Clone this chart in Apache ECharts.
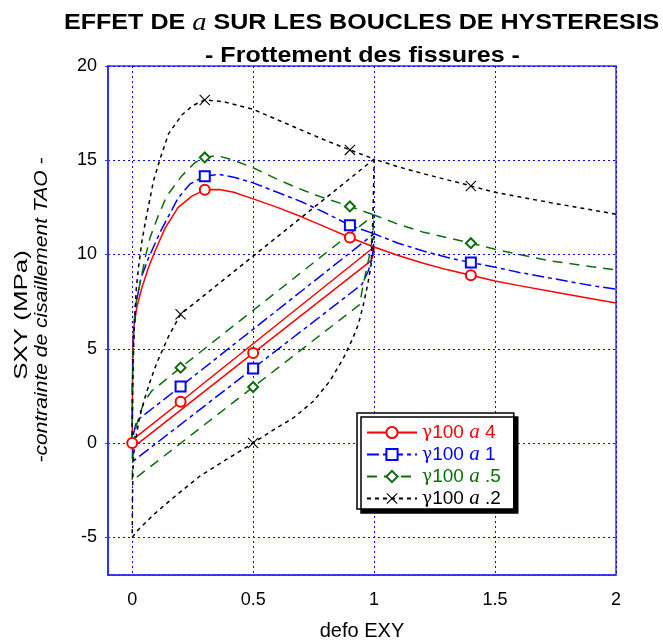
<!DOCTYPE html>
<html>
<head>
	<meta charset="utf-8">
	<title>EFFET DE a SUR LES BOUCLES DE HYSTERESIS</title>
	<script src="https://cdn.jsdelivr.net/npm/echarts@6/dist/echarts.min.js"></script>
	<style>
		body { margin: 0; background: #fff; }
		#chart { width: 663px; height: 643px; }
	</style>
</head>
<body>
	<div id="chart"></div>
<script>
	// boucles : enveloppe 0->1, dechargement 1->0, rechargement 0->1, enveloppe 1->2
	var red = [
		[0,0],[0.001,2.5],[0.002,5],[0.006,6.1],[0.019,7.2],[0.04,8.24],[0.067,9.3],[0.095,10.2],[0.136,11.4],[0.19,12.5],
		[0.247,13.1],[0.3,13.43],[0.36,13.45],[0.42,13.3],[0.5,12.95],[0.6,12.5],[0.7,12.0],[0.8,11.45],[0.9,10.9],[1,10.4],
		[0.998,10.0],[0.99,9.75],[0.98,9.6],[0.5,4.77],[0,-0.27],
		[0.003,0.1],[0.01,0.26],[0.2,2.19],[1,10.4],
		[1.1,9.95],[1.2,9.55],[1.3,9.2],[1.4,8.9],[1.5,8.6],[1.6,8.35],[1.75,8.0],[1.9,7.65],[2,7.43]
	];
	var blue = [
		[0,0],[0.001,3],[0.005,5.5],[0.015,7.3],[0.035,8.7],[0.067,9.8],[0.116,11.2],[0.19,13.0],[0.24,13.75],[0.3,14.15],
		[0.36,14.25],[0.42,14.1],[0.5,13.8],[0.6,13.3],[0.7,12.8],[0.8,12.2],[0.9,11.55],[1,11.1],
		[0.997,10.3],[0.99,9.7],[0.975,9.1],[0.95,8.42],[0.5,3.96],[0,-1.0],
		[0.002,-0.2],[0.006,0.5],[0.015,1.0],[0.03,1.3],[0.05,1.5],[0.2,3.0],[1,11.1],
		[1.1,10.6],[1.2,10.2],[1.3,9.85],[1.4,9.57],[1.5,9.33],[1.6,9.05],[1.75,8.7],[1.9,8.35],[2,8.16]
	];
	var green = [
		[0,0],[0.001,3],[0.005,5.5],[0.012,7.2],[0.033,8.5],[0.054,9.84],[0.074,10.9],[0.109,12.1],[0.143,13.1],[0.205,14.17],
		[0.26,14.88],[0.3,15.15],[0.35,15.25],[0.42,15.0],[0.5,14.6],[0.59,14.05],[0.67,13.6],[0.77,13.1],[0.9,12.55],[1,12.1],
		[0.995,11.2],[0.985,10.2],[0.97,9.3],[0.955,8.4],[0.94,7.34],[0.5,2.97],[0,-2],
		[0.002,-1],[0.006,0],[0.015,0.8],[0.03,1.5],[0.05,2.2],[0.08,2.75],[0.2,4.0],[1,12.1],
		[1.1,11.6],[1.2,11.2],[1.4,10.6],[1.5,10.28],[1.6,10.0],[1.73,9.66],[1.9,9.35],[2,9.18]
	];
	var black = [
		[0,0],[0.002,3],[0.008,6],[0.017,8.2],[0.026,9.3],[0.04,10.7],[0.06,12.1],[0.088,13.9],[0.116,15.1],[0.15,16.4],
		[0.205,17.4],[0.25,17.9],[0.3,18.2],[0.38,18.1],[0.5,17.7],[0.6,17.15],[0.7,16.6],[0.8,16.05],[0.9,15.55],[1,15.06],
		[0.997,13],[0.993,11],[0.988,9.5],[0.975,8.5],[0.955,7.3],[0.935,6.3],[0.91,5.5],[0.873,4.5],[0.818,3.3],[0.75,2.23],
		[0.667,1.34],[0.584,0.7],[0.5,0],[0.39,-0.87],[0.28,-1.75],[0.17,-2.9],[0.088,-3.8],[0.02,-4.67],[0,-5],
		[0.001,-3],[0.003,-1.6],[0.006,-0.6],[0.012,0],[0.03,1.34],[0.05,2.3],[0.075,3.3],[0.1,4.2],[0.15,5.65],[0.2,6.83],[1,15.06],
		[1.1,14.65],[1.2,14.3],[1.4,13.64],[1.5,13.3],[1.73,12.75],[2,12.14]
	];

	// points portant un symbole
	var redMarks = [[0,0],[0.3,13.43],[0.9,10.9],[0.5,4.77],[0.2,2.19],[1.4,8.9]];
	var blueMarks = [[0.3,14.15],[0.9,11.55],[0.5,3.96],[0.2,3.0],[1.4,9.57]];
	var greenMarks = [[0.3,15.15],[0.9,12.55],[0.5,2.97],[0.2,4.0],[1.4,10.6]];
	var blackMarks = [[0.3,18.2],[0.9,15.55],[0.5,0],[0.2,6.83],[1.4,13.64]];

	var names = ['γ100 a 4', 'γ100 a 1', 'γ100 a .5', 'γ100 a .2'];

	function toData(pts, marks) {
		return pts.map(function (p) {
			var hit = marks.some(function (m) { return m[0] === p[0] && m[1] === p[1]; });
			return hit ? { value: p } : { value: p, symbol: 'none' };
		});
	}

	// croix fine
	var crossPath = 'path://M0,0.7L0.7,0L10,9.3L9.3,10ZM9.3,0L10,0.7L0.7,10L0,9.3Z';

	function mkSeries(name, pts, marks, color, type, symbol, size, bw) {
		return {
			name: name,
			type: 'line',
			data: toData(pts, marks),
			showSymbol: true,
			showAllSymbol: true,
			symbol: symbol,
			symbolSize: size,
			smooth: false,
			animation: false,
			lineStyle: { color: color, width: 1.5, type: type },
			itemStyle: { color: color, borderColor: color, borderWidth: bw }
		};
	}

	var chart = echarts.init(document.getElementById('chart'));
	var option = {
		animation: false,
		grid: {
			left: 108, right: 47, top: 66, bottom: 68,
			outerBoundsMode: 'none',
			show: true, borderColor: '#3030ff', borderWidth: 1.5, backgroundColor: '#fff'
		},
		legend: {
			orient: 'vertical',
			left: 357, top: 413,
			padding: [9, 13, 0, 9],
			itemGap: 1,
			itemWidth: 50, itemHeight: 14,
			backgroundColor: '#fff',
			borderColor: '#000', borderWidth: 1.5,
			shadowColor: '#000', shadowBlur: 0, shadowOffsetX: 4, shadowOffsetY: 4,
			data: [
				{ name: names[0], textStyle: { color: '#ff0000' } },
				{ name: names[1], textStyle: { color: '#0000ff' } },
				{ name: names[2], textStyle: { color: '#0a6e0a' } },
				{ name: names[3], textStyle: { color: '#000' } }
			],
			formatter: function (n) {
				var parts = n.split(' ');
				return '{g|γ}{n|100 }{a|a}{n| ' + parts[2] + '}';
			},
			textStyle: {
				fontSize: 19,
				lineHeight: 18,
				rich: {
					g: { fontFamily: 'DejaVu Serif', fontSize: 17, lineHeight: 18 },
					n: { fontFamily: 'Liberation Sans', fontSize: 19, lineHeight: 18 },
					a: { fontFamily: 'Liberation Serif', fontStyle: 'italic', fontSize: 21, lineHeight: 18 }
				}
			}
		},
		xAxis: {
			type: 'value',
			min: -0.1, max: 2,
			name: 'defo EXY',
			nameLocation: 'middle',
			nameGap: 46,
			nameTextStyle: { fontFamily: 'Liberation Sans', fontSize: 20, color: '#000' },
			axisLine: { show: true, onZero: false, lineStyle: { color: '#3030ff', width: 1.5 } },
			axisTick: { show: false },
			axisLabel: { showMinLabel: false, margin: 16, fontFamily: 'Liberation Sans', fontSize: 18, color: '#000' },
			splitLine: { show: true, lineStyle: { color: '#0000ff', type: [2, 3], width: 1 } }
		},
		yAxis: {
			type: 'value',
			min: -7, max: 20,
			axisLine: { show: true, onZero: false, lineStyle: { color: '#3030ff', width: 2 } },
			axisTick: { show: true, length: 3, lineStyle: { color: '#3030ff' } },
			axisLabel: { showMinLabel: false, margin: 11, fontFamily: 'Liberation Sans', fontSize: 18, color: '#000' },
			splitLine: { show: true, lineStyle: { color: '#0000ff', type: [2, 3], width: 1 } }
		},
		graphic: [{
			type: 'text', x: 64, y: 23, scaleX: 1.14,
			style: {
				text: '{b|EFFET DE }{i|a}{b| SUR LES BOUCLES DE HYSTERESIS}',
				textAlign: 'left', textVerticalAlign: 'middle',
				rich: {
					b: { font: 'bold 22px "Liberation Sans"', fill: '#000' },
					i: { font: 'italic 25px "Liberation Serif"', fill: '#000' }
				}
			}
		}, {
			type: 'text', x: 205, y: 56, scaleX: 1.14,
			style: { text: '- Frottement des fissures -', fill: '#000', font: 'bold 22px "Liberation Sans"', textAlign: 'left', textVerticalAlign: 'middle' }
		}, {
			type: 'text', x: 22, y: 315, rotation: Math.PI / 2, scaleX: 1.44,
			style: { text: 'SXY (MPa)', fill: '#000', font: '18px "Liberation Sans"', textAlign: 'center', textVerticalAlign: 'middle' }
		}, {
			type: 'text', x: 42, y: 310, rotation: Math.PI / 2, scaleX: 1.17,
			style: { text: '-contrainte de cisaillement TAO -', fill: '#000', font: 'italic 18px "Liberation Sans"', textAlign: 'center', textVerticalAlign: 'middle' }
		}],
		series: [
			mkSeries(names[0], red, redMarks, '#ff0000', 'solid', 'emptyCircle', 10, 1.2),
			mkSeries(names[1], blue, blueMarks, '#0000ff', [12, 4, 4, 4], 'emptyRect', 10, 1.2),
			mkSeries(names[2], green, greenMarks, '#0a6e0a', [10, 7], 'emptyDiamond', 10, 1.2),
			mkSeries(names[3], black, blackMarks, '#000000', [4, 4], crossPath, 11, 0)
		]
	};
	chart.setOption(option);
</script>
</body>
</html>
